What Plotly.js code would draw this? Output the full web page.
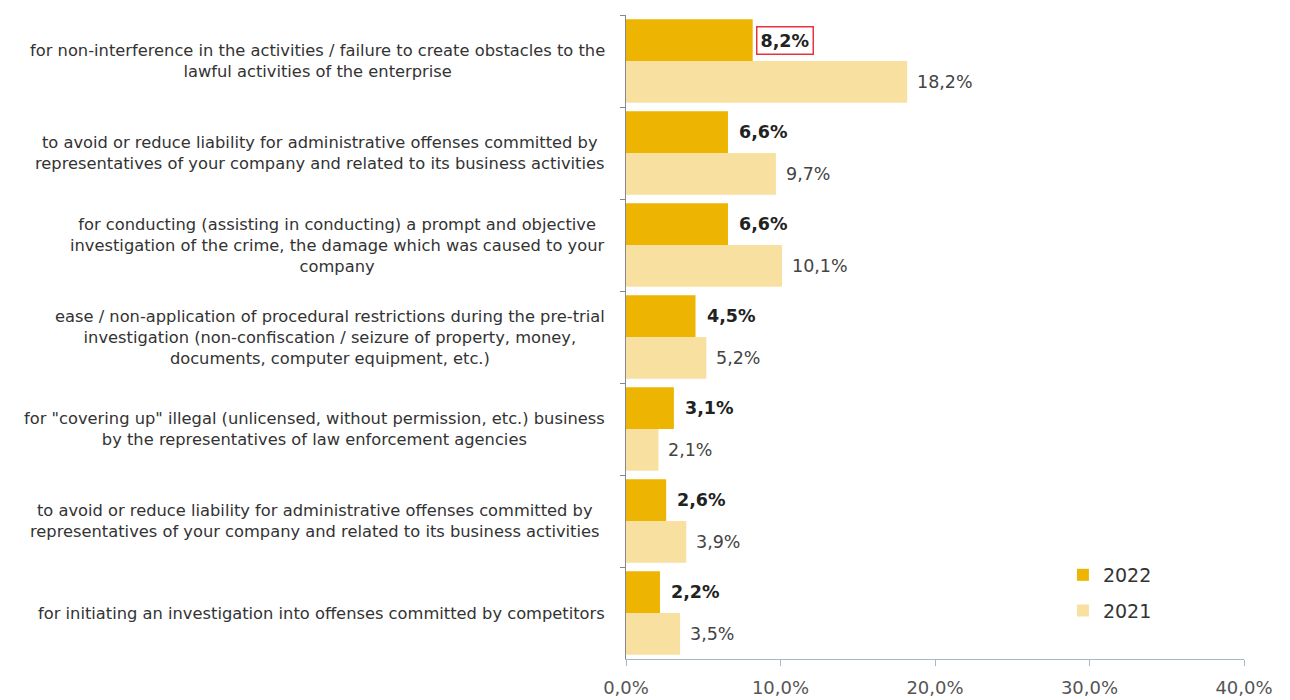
<!DOCTYPE html>
<html><head><meta charset="utf-8">
<script src="https://cdn.plot.ly/plotly-3.0.1.min.js"></script>
<style>body{margin:0;background:#fff}#c{width:1290px;height:700px}</style>
</head><body><div id="c"></div>
<script>
const categories = [
  "for non-interference in the activities / failure to create obstacles to the<br>lawful activities of the enterprise",
  "to avoid or reduce liability for administrative offenses committed by<br>representatives of your company and related to its business activities",
  "for conducting (assisting in conducting) a prompt and objective<br>investigation of the crime, the damage which was caused to your<br>company",
  "ease / non-application of procedural restrictions during the pre-trial<br>investigation (non-confiscation / seizure of property, money,<br>documents, computer equipment, etc.)",
  "for \"covering up\" illegal (unlicensed, without permission, etc.) business<br>by the representatives of law enforcement agencies",
  "to avoid or reduce liability for administrative offenses committed by <br>representatives of your company and related to its business activities ",
  "for initiating an investigation into offenses committed by competitors"
];
const values2022 = [8.2, 6.6, 6.6, 4.5, 3.1, 2.6, 2.2];
const values2021 = [18.2, 9.7, 10.1, 5.2, 2.1, 3.9, 3.5];
const xTicks = [0, 10, 20, 30, 40];

const FONT = "DejaVu Sans, Verdana, sans-serif";
const fmt = v => v.toFixed(1).replace('.', ',') + '%';

const traces = [
  {type:'bar', orientation:'h', name:'2022', y:categories, x:values2022,
   marker:{color:'#EDB502'}, legendgroup:'a', hoverinfo:'x'},
  {type:'bar', orientation:'h', name:'2021', y:categories, x:values2021,
   marker:{color:'#F7E0A0'}, legendgroup:'b', hoverinfo:'x'}
];

const annotations = [];
categories.forEach((c, i) => {
  annotations.push({xref:'paper', x:-0.03, yref:'y', y:c, text:c, showarrow:false,
    xanchor:'right', yanchor:'middle', align:'center',
    font:{family:FONT, size:16.3, color:'#333'}});
  const a = {xref:'x', x:values2022[i], yref:'y', y:c, yshift:21, xshift:9,
    text:'<b>' + fmt(values2022[i]) + '</b>', showarrow:false, xanchor:'left', yanchor:'middle',
    font:{family:FONT, size:17.5, color:'#222'}};
  if (i === 0) { a.bordercolor = '#E8333A'; a.borderwidth = 1.5; a.borderpad = 3; a.xshift = 3; }
  annotations.push(a);
  annotations.push({xref:'x', x:values2021[i], yref:'y', y:c, yshift:-21, xshift:8,
    text:fmt(values2021[i]), showarrow:false, xanchor:'left', yanchor:'middle',
    font:{family:FONT, size:17.5, color:'#444'}});
});

const layout = {
  width:1290, height:700,
  margin:{l:626, r:46, t:15, b:41},
  paper_bgcolor:'#fff', plot_bgcolor:'#fff',
  barmode:'group', bargap:0.09, bargroupgap:0,
  font:{family:FONT, color:'#444'},
  showlegend:true,
  legend:{x:0.707, y:0.16, xanchor:'left', yanchor:'top', traceorder:'grouped',
    tracegroupgap:8, font:{family:FONT, size:19, color:'#333'}, bgcolor:'rgba(0,0,0,0)', itemwidth:30},
  xaxis:{range:[0,40], tickvals:xTicks, ticktext:xTicks.map(fmt), showgrid:false, zeroline:false,
    showline:true, linecolor:'#A8B8C0', linewidth:1, ticks:'outside', ticklen:6, tickcolor:'#A8B8C0',
    tickfont:{family:FONT, size:18, color:'#555'}, ticklabelstandoff:6, fixedrange:true},
  yaxis:{type:'category', autorange:'reversed', showticklabels:false, showgrid:false,
    showline:true, linecolor:'#888', linewidth:1, ticks:'outside', ticklen:5, tickcolor:'#888',
    tickson:'boundaries', fixedrange:true},
  annotations:annotations
};

Plotly.newPlot('c', traces, layout, {displayModeBar:false, staticPlot:true});
</script></body></html>
